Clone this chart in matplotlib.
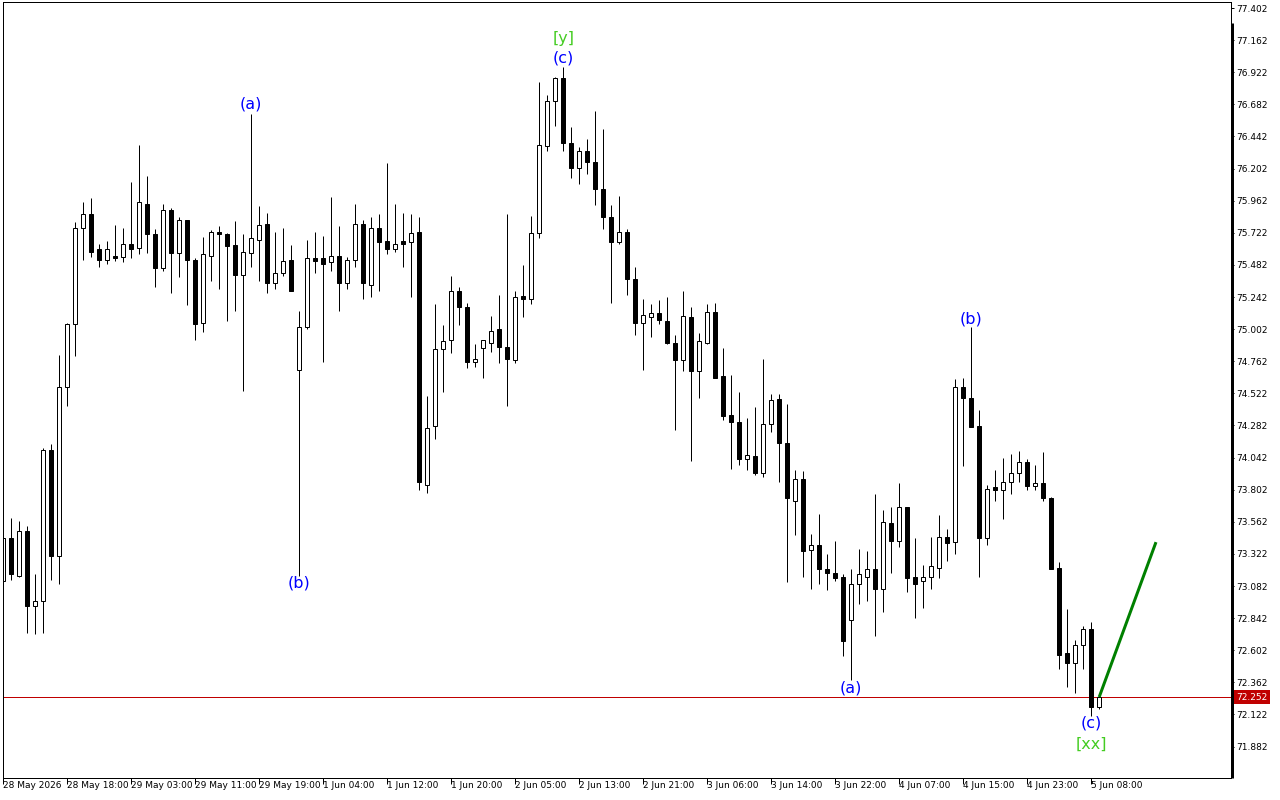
import numpy as np
import matplotlib.pyplot as plt
from matplotlib.transforms import blended_transform_factory

# hourly candles (oldest first)
opens = [73.12, 73.44, 73.16, 73.49, 72.93, 72.97, 74.10, 73.31, 74.57, 75.04,
         75.76, 75.86, 75.60, 75.52, 75.55, 75.54, 75.64, 75.61, 75.94, 75.71,
         75.46, 75.89, 75.57, 75.82, 75.52, 75.05, 75.55, 75.73, 75.71, 75.63,
         75.41, 75.57, 75.67, 75.79, 75.35, 75.42, 75.52, 74.70, 75.02, 75.53,
         75.53, 75.50, 75.55, 75.35, 75.52, 75.79, 75.33, 75.76, 75.66, 75.60,
         75.66, 75.65, 75.73, 73.84, 74.28, 74.85, 74.92, 75.29, 75.17, 74.76,
         74.86, 74.90, 75.00, 74.87, 74.77, 75.25, 75.23, 75.72, 76.37, 76.71,
         76.88, 76.39, 76.21, 76.33, 76.25, 76.05, 75.84, 75.65, 75.73, 75.38,
         75.05, 75.09, 75.12, 75.06, 74.90, 74.77, 75.09, 74.69, 74.90, 75.13,
         74.65, 74.36, 74.31, 74.03, 74.05, 73.93, 74.29, 74.48, 74.15, 73.72,
         73.88, 73.35, 73.39, 73.21, 73.18, 73.15, 72.83, 73.10, 73.15, 73.21,
         73.06, 73.55, 73.42, 73.67, 73.15, 73.12, 73.15, 73.22, 73.45, 73.41,
         74.57, 74.49, 74.28, 73.44, 73.82, 73.80, 73.86, 73.93, 74.01, 73.83,
         73.85, 73.74, 73.22, 72.58, 72.51, 72.64, 72.76, 72.18]
highs = [73.54, 73.59, 73.57, 73.53, 73.17, 74.11, 74.14, 74.81, 75.05, 75.80,
         75.95, 75.98, 75.64, 75.66, 75.78, 75.76, 76.10, 76.38, 76.15, 75.75,
         75.94, 75.91, 75.84, 75.82, 75.53, 75.69, 75.74, 75.77, 75.72, 75.81,
         75.71, 76.61, 75.92, 75.87, 75.73, 75.76, 75.63, 75.14, 75.67, 75.73,
         75.70, 75.99, 75.77, 75.54, 75.94, 75.82, 75.84, 75.86, 76.24, 75.94,
         75.87, 75.86, 75.84, 74.50, 75.19, 75.03, 75.40, 75.32, 75.20, 74.89,
         74.92, 75.10, 75.26, 75.86, 75.29, 75.48, 75.85, 76.85, 76.75, 76.89,
         76.96, 76.51, 76.36, 76.42, 76.63, 76.50, 75.93, 76.00, 75.75, 75.47,
         75.23, 75.19, 75.22, 75.24, 74.96, 75.29, 75.17, 74.97, 75.19, 75.20,
         74.86, 74.66, 74.53, 74.34, 74.42, 74.78, 74.52, 74.52, 74.44, 73.95,
         73.94, 73.47, 73.62, 73.32, 73.42, 73.17, 73.21, 73.36, 73.34, 73.77,
         73.65, 73.67, 73.85, 73.67, 73.44, 73.24, 73.45, 73.61, 73.51, 74.63,
         74.64, 75.02, 74.40, 73.84, 73.95, 74.04, 74.07, 74.09, 74.03, 73.99,
         74.08, 73.75, 73.26, 72.91, 72.68, 72.78, 72.81, 72.26]
lows = [73.09, 73.13, 73.15, 72.73, 72.72, 72.73, 73.13, 73.10, 74.43, 74.80,
        75.52, 75.54, 75.47, 75.49, 75.51, 75.50, 75.53, 75.56, 75.57, 75.32,
        75.44, 75.27, 75.39, 75.18, 74.92, 74.98, 75.36, 75.30, 75.06, 75.14,
        74.54, 75.47, 75.36, 75.27, 75.30, 75.40, 75.29, 73.16, 75.00, 75.42,
        74.76, 75.44, 75.14, 75.30, 75.47, 75.23, 75.24, 75.29, 75.56, 75.58,
        75.47, 75.24, 73.80, 73.78, 74.18, 74.53, 74.82, 75.03, 74.71, 74.72,
        74.64, 74.83, 74.75, 74.43, 74.75, 75.09, 75.19, 75.68, 76.33, 76.52,
        76.33, 76.13, 76.09, 76.16, 75.93, 75.75, 75.20, 75.64, 75.26, 74.96,
        74.70, 74.94, 75.04, 74.89, 74.25, 74.69, 74.02, 74.49, 74.89, 74.64,
        74.32, 73.96, 73.99, 73.95, 73.91, 73.90, 74.23, 73.86, 73.11, 73.46,
        73.15, 73.06, 73.10, 73.05, 73.12, 72.56, 72.38, 72.95, 72.97, 72.71,
        72.89, 73.18, 73.37, 73.04, 72.84, 72.92, 73.06, 73.14, 73.27, 73.32,
        73.98, 74.27, 73.15, 73.39, 73.72, 73.58, 73.77, 73.86, 73.80, 73.80,
        73.72, 73.21, 72.46, 72.33, 72.28, 72.46, 72.11, 72.16]
closes = [73.44, 73.17, 73.49, 72.93, 72.97, 74.10, 73.31, 74.57, 75.04, 75.76,
          75.86, 75.58, 75.52, 75.60, 75.53, 75.64, 75.60, 75.95, 75.71, 75.46,
          75.89, 75.57, 75.82, 75.52, 75.04, 75.56, 75.73, 75.71, 75.62, 75.41,
          75.58, 75.68, 75.78, 75.35, 75.42, 75.51, 75.29, 75.02, 75.53, 75.51,
          75.49, 75.55, 75.35, 75.52, 75.79, 75.35, 75.76, 75.65, 75.60, 75.64,
          75.64, 75.72, 73.86, 74.26, 74.85, 74.91, 75.29, 75.17, 74.76, 74.78,
          74.92, 74.99, 74.87, 74.78, 75.24, 75.23, 75.72, 76.38, 76.71, 76.88,
          76.39, 76.21, 76.33, 76.25, 76.05, 75.84, 75.65, 75.73, 75.38, 75.05,
          75.11, 75.12, 75.07, 74.90, 74.77, 75.10, 74.69, 74.91, 75.13, 74.64,
          74.35, 74.31, 74.03, 74.06, 73.93, 74.29, 74.47, 74.15, 73.74, 73.88,
          73.34, 73.39, 73.21, 73.18, 73.14, 72.67, 73.10, 73.17, 73.21, 73.06,
          73.56, 73.42, 73.67, 73.14, 73.10, 73.15, 73.23, 73.45, 73.40, 74.57,
          74.49, 74.27, 73.44, 73.81, 73.80, 73.86, 73.93, 74.01, 73.83, 73.85,
          73.74, 73.21, 72.57, 72.51, 72.64, 72.76, 72.18, 72.252]

# time axis labels, one every 8 bars
tick_bars = list(range(0, 137, 8))
tick_labels = ["28 May 2026", "28 May 18:00", "29 May 03:00", "29 May 11:00",
               "29 May 19:00", "1 Jun 04:00", "1 Jun 12:00", "1 Jun 20:00",
               "2 Jun 05:00", "2 Jun 13:00", "2 Jun 21:00", "3 Jun 06:00",
               "3 Jun 14:00", "3 Jun 22:00", "4 Jun 07:00", "4 Jun 15:00",
               "4 Jun 23:00", "5 Jun 08:00"]

# wave marks
wave_bars = [31, 37, 70, 70, 106, 121, 136, 136]
wave_texts = ["(a)", "(b)", "(c)", "[y]", "(a)", "(b)", "(c)", "[xx]"]
wave_at_high = [True, False, True, True, False, True, False, False]
wave_gap_px = [10, 7, 9, 29, 8, 8, 7, 28]

# forecast line
proj_bars = [137, 144.1]
proj_prices = [72.252, 73.41]

o = np.array(opens)
h = np.array(highs)
l = np.array(lows)
c = np.array(closes)
x = np.arange(len(o))
up = c >= o

px = 0.72  # points per pixel at dpi 100
fig = plt.figure(figsize=(12.8, 8), dpi=100)
ax = fig.add_axes([2.7 / 1280, 22 / 800, 1228.3 / 1280, 776 / 800])

ax.axhline(c[-1], color="#c00000", lw=1 * px, zorder=0)
ax.vlines(x, l, h, color="black", lw=1 * px, zorder=1)
bottom = np.minimum(o, c)
height = np.maximum(np.abs(c - o), 0.004)
ax.bar(x[up], height[up], bottom=bottom[up], width=0.56, facecolor="white",
       edgecolor="black", lw=1 * px, zorder=2)
ax.bar(x[~up], height[~up], bottom=bottom[~up], width=0.56, facecolor="black",
       edgecolor="black", lw=1 * px, zorder=2)

ax.plot(proj_bars, proj_prices, color="#008000", lw=3 * px, zorder=3,
        solid_capstyle="butt")

for b, t, hi, g in zip(wave_bars, wave_texts, wave_at_high, wave_gap_px):
    col = "#44cc22" if t.startswith("[") else "#0000ff"
    yv = h[b] if hi else l[b]
    dy = g * px if hi else -g * px
    ax.annotate(t, xy=(b, yv), xytext=(0, dy), textcoords="offset points",
                ha="center", va="center", fontsize=11.5, color=col, zorder=4)

ax.set_xlim(-0.06, -0.06 + 1228.3 / 8)
ax.set_ylim(71.647, 77.447)

yt = [71.882 + 0.24 * i for i in range(24)]
ax.yaxis.tick_right()
ax.set_yticks(yt)
ax.set_yticklabels([f"{v:.3f}" for v in yt])
ax.set_xticks(tick_bars)
ax.set_xticklabels(tick_labels, ha="left")
ax.tick_params(axis="y", direction="out", length=3 * px, width=1 * px,
               pad=1.5, labelsize=6.5)
ax.tick_params(axis="x", direction="out", length=6 * px, width=1 * px,
               pad=-2, labelsize=6.5)
for s in ax.spines.values():
    s.set_linewidth(1 * px)
ax.plot([1.0012, 1.0012], [0, (778 - 23) / 776], transform=ax.transAxes,
        color="black", lw=3 * px, clip_on=False, solid_capstyle="butt")

tr = blended_transform_factory(ax.transAxes, ax.transData)
ax.text(1.0045, c[-1], f"{c[-1]:.3f}", transform=tr, ha="left", va="center",
        fontsize=6.5, color="white",
        bbox=dict(boxstyle="square,pad=0.25", fc="#c00000", ec="none"))

fig.savefig("out.png", dpi=100, facecolor="white")
